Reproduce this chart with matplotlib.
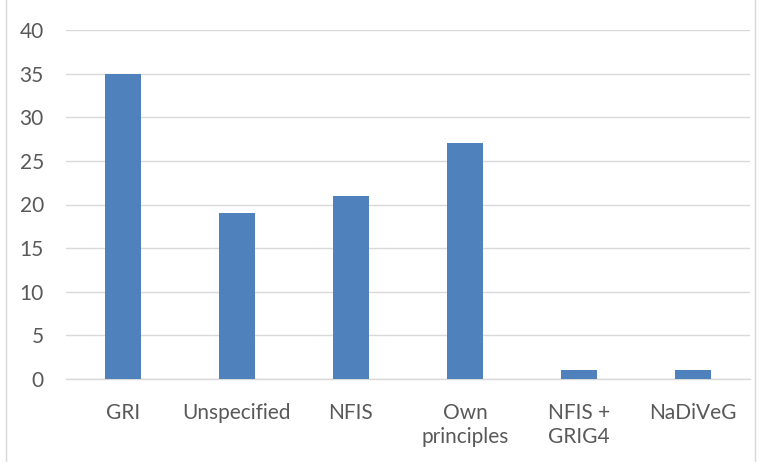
import matplotlib
matplotlib.use("Agg")
import matplotlib.pyplot as plt
from matplotlib.patches import Rectangle

categories = ["GRI", "Unspecified", "NFIS", "Own\nprinciples", "NFIS +\nGRIG4", "NaDiVeG"]
values = [35, 19, 21, 27, 1, 1]
y_ticks = [0, 5, 10, 15, 20, 25, 30, 35, 40]

plt.rcParams['font.family'] = ['Lato', 'DejaVu Sans']
text_color = "#595959"
grid_color = "#D9D9D9"
bar_color = "#4F81BD"

fig = plt.figure(figsize=(7.61, 4.62), dpi=100)
ax = fig.add_axes([66 / 761, 1 - 379 / 462, 684 / 761, 349 / 462])

x = range(len(categories))
ax.bar(x, values, width=0.32, color=bar_color, zorder=3)

ax.set_xlim(-0.5, len(categories) - 0.5)
ax.set_ylim(0, 40)
ax.set_yticks(y_ticks)
ax.set_xticks(list(x))
ax.set_xticklabels(categories, linespacing=1.25)

ax.grid(axis="y", color=grid_color, linewidth=1, zorder=0)
for side in ("top", "right", "left"):
    ax.spines[side].set_visible(False)
ax.spines["bottom"].set_color(grid_color)
ax.spines["bottom"].set_linewidth(1)

ax.tick_params(axis="both", length=0, labelsize=15, colors=text_color)
ax.tick_params(axis="y", pad=16)
ax.tick_params(axis="x", pad=17.5)

fig.patches.append(Rectangle((6 / 761, -5 / 462), 749 / 761, 470 / 462,
                             transform=fig.transFigure, fill=False,
                             edgecolor=grid_color, linewidth=1))

fig.savefig("out.png", dpi=100)
